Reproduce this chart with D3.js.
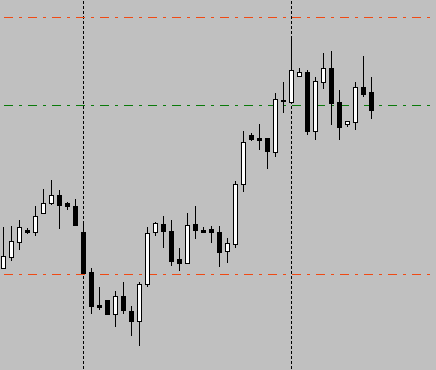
<!DOCTYPE html>
<html>
<head>
<meta charset="utf-8">
<script src="https://cdn.jsdelivr.net/npm/d3@7"></script>
<style>
	html, body { margin: 0; padding: 0; background: #c0c0c0; }
	svg { display: block; }
</style>
</head>
<body>
<div id="chartDiv"></div>
<script>
;(function() {

	var width = 436;
	var height = 370;

	// bar prices, one entry per candle
	var opens  = [1.3132, 1.31435, 1.31585, 1.31695, 1.31675, 1.31865, 1.31975, 1.3205, 1.3197, 1.3194,
		1.3168, 1.3128, 1.3095, 1.3100, 1.30855, 1.3104, 1.3089, 1.30785, 1.31155, 1.31675,
		1.3176, 1.3169, 1.3141, 1.31365, 1.3176, 1.3170, 1.3171, 1.3168, 1.31485, 1.31565,
		1.32165, 1.32655, 1.3262, 1.3262, 1.32475, 1.3300, 1.32985, 1.33245, 1.3328, 1.32685,
		1.33185, 1.3332, 1.32985, 1.32765, 1.32785, 1.3313, 1.3308];
	var highs  = [1.3173, 1.3174, 1.3180, 1.3172, 1.3194, 1.3211, 1.3220, 1.3210, 1.3198, 1.3201,
		1.3177, 1.3132, 1.3113, 1.3100, 1.3109, 1.3118, 1.3094, 1.3118, 1.31725, 1.3178,
		1.3184, 1.3180, 1.3152, 1.3187, 1.3194, 1.3173, 1.3174, 1.3174, 1.3162, 1.3219,
		1.3269, 1.32665, 1.3276, 1.3262, 1.3307, 1.3318, 1.3363, 1.3332, 1.3330, 1.3323,
		1.3347, 1.3349, 1.3310, 1.3279, 1.3318, 1.3344, 1.3323];
	var lows   = [1.3131, 1.3139, 1.3150, 1.3166, 1.3164, 1.3186, 1.31955, 1.3171, 1.31895, 1.3174,
		1.3127, 1.30855, 1.30895, 1.3085, 1.30725, 1.30855, 1.30645, 1.30535, 1.31125, 1.31645,
		1.31515, 1.31335, 1.31285, 1.31355, 1.31615, 1.31665, 1.31575, 1.31325, 1.31375, 1.31515,
		1.3208, 1.32595, 1.3250, 1.32305, 1.32435, 1.32865, 1.3296, 1.33245, 1.32655, 1.3260,
		1.3311, 1.32755, 1.3260, 1.32725, 1.3270, 1.3303, 1.32815];
	var closes = [1.3144, 1.3159, 1.3173, 1.31675, 1.3184, 1.3197, 1.3205, 1.31955, 1.31935, 1.3175,
		1.3127, 1.30935, 1.3093, 1.30855, 1.3104, 1.30895, 1.30785, 1.3116, 1.3167, 1.3177,
		1.31685, 1.31395, 1.31365, 1.3175, 1.31695, 1.3168, 1.31675, 1.31475, 1.3157, 1.3216,
		1.3258, 1.32615, 1.32605, 1.32485, 1.3301, 1.3299, 1.33295, 1.3328, 1.32685, 1.3319,
		1.3332, 1.32975, 1.32725, 1.3279, 1.3313, 1.3306, 1.3290];

	// horizontal price levels and period separators (bar index)
	var levelPrices = [1.33825, 1.32945, 1.31255];
	var levelColors = ["#f04a14", "#0a7a0a", "#f04a14"];
	var separators = [10, 36];

	var priceTop = 1.3400;
	var priceBottom = 1.3030;
	var barStep = 8;
	var bodyWidth = 4;

	var data = opens.map(function(o, i) {
		return { i: i, o: o, h: highs[i], l: lows[i], c: closes[i] };
	});

	var chart = d3.select("#chartDiv").append("svg")
		.attr("width", width)
		.attr("height", height)
		.style("background", "#c0c0c0");

	var xScale = d3.scaleLinear()
		.domain([0, 1])
		.range([3.5, 3.5 + barStep]);

	var yScale = d3.scaleLinear()
		.domain([priceTop, priceBottom])
		.range([0, height]);

	// period separators
	chart.selectAll(".sep")
		.data(separators)
		.enter().append("line")
		.attr("class", "sep")
		.attr("x1", function(d) { return xScale(d); })
		.attr("x2", function(d) { return xScale(d); })
		.attr("y1", 0)
		.attr("y2", height)
		.attr("stroke", "#000")
		.attr("stroke-width", 1)
		.attr("stroke-dasharray", "3,2")
		.attr("stroke-dashoffset", 4)
		.attr("shape-rendering", "crispEdges");

	// price levels, dash-dot
	chart.selectAll(".level")
		.data(levelPrices)
		.enter().append("line")
		.attr("class", "level")
		.attr("x1", 0)
		.attr("x2", width)
		.attr("y1", function(d) { return yScale(d); })
		.attr("y2", function(d) { return yScale(d); })
		.attr("stroke", function(d, i) { return levelColors[i]; })
		.attr("stroke-width", 1)
		.attr("stroke-dasharray", "9,6,3,6")
		.attr("stroke-dashoffset", 20)
		.attr("shape-rendering", "crispEdges");

	var candles = chart.selectAll(".candle")
		.data(data)
		.enter().append("g")
		.attr("class", "candle")
		.attr("shape-rendering", "crispEdges");

	// wicks
	candles.append("line")
		.attr("x1", function(d) { return xScale(d.i); })
		.attr("x2", function(d) { return xScale(d.i); })
		.attr("y1", function(d) { return Math.round(yScale(d.h)); })
		.attr("y2", function(d) { return Math.round(yScale(d.l)); })
		.attr("stroke", "#000")
		.attr("stroke-width", 1);

	// bodies
	candles.append("rect")
		.attr("x", function(d) { return xScale(d.i) - bodyWidth / 2; })
		.attr("y", function(d) { return Math.round(yScale(Math.max(d.o, d.c))) + 0.5; })
		.attr("width", bodyWidth)
		.attr("height", function(d) {
			var hgt = Math.round(yScale(Math.min(d.o, d.c))) - Math.round(yScale(Math.max(d.o, d.c)));
			return Math.max(hgt, 1);
		})
		.attr("fill", function(d) { return d.c >= d.o ? "#fff" : "#000"; })
		.attr("stroke", "#000")
		.attr("stroke-width", 1);

})();
</script>
</body>
</html>
